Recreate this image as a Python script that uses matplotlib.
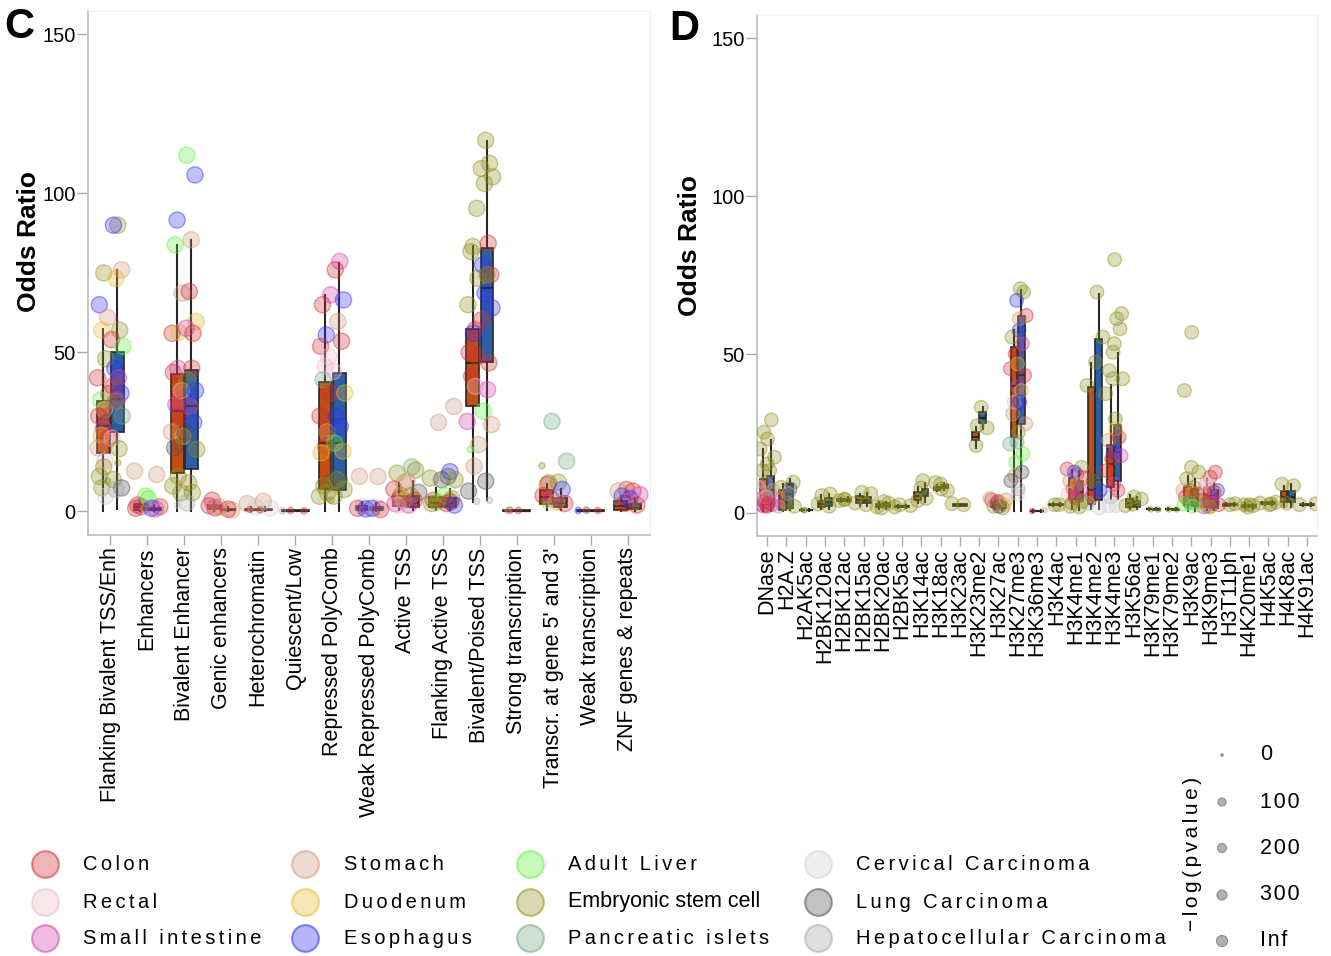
import numpy as np
import matplotlib
matplotlib.use("Agg")
import matplotlib.pyplot as plt
from matplotlib.colors import to_rgba

plt.rcParams["font.family"] = ["Liberation Sans", "DejaVu Sans"]

# ---------------------------------------------------------------- tissues
TISSUE_CODES = ["CO", "RE", "SI", "ST", "DU", "ES", "AL", "EM", "PI", "CC", "LC", "HC"]
TISSUE_NAMES = ["Colon", "Rectal", "Small intestine", "Stomach", "Duodenum", "Esophagus",
                "Adult Liver", "Embryonic stem cell", "Pancreatic islets",
                "Cervical Carcinoma", "Lung Carcinoma", "Hepatocellular Carcinoma"]
TISSUE_COLORS = ["#d03030", "#f0b8c8", "#d040b0", "#d09878", "#e8b830", "#3030f0",
                 "#60f040", "#909020", "#70a880", "#d0d0d0", "#505050", "#a8a8a8"]

SIZE_LABELS = ["0", "100", "200", "300", "Inf"]

# ---------------------------------------------------------------- panel C
C_CATS = ["Flanking Bivalent TSS/Enh", "Enhancers", "Bivalent Enhancer", "Genic enhancers",
          "Heterochromatin", "Quiescent/Low", "Repressed PolyComb", "Weak Repressed PolyComb",
          "Active TSS", "Flanking Active TSS", "Bivalent/Poised TSS", "Strong transcription",
          "Transcr. at gene 5' and 3'", "Weak transcription", "ZNF genes & repeats"]

# (whisker low, q1, median, q3, whisker high)
C_ORANGE = [(0.0, 18.4, 26.8, 34.7, 57.4), (0.2, 0.6, 1.3, 2.2, 3.5), (0.0, 12.1, 31.5, 43.1, 83.9),
            (0.2, 0.8, 1.3, 2.0, 3.0), (0.1, 0.3, 0.5, 0.8, 1.5), (0.05, 0.1, 0.2, 0.3, 0.5),
            (0.0, 7.2, 21.6, 40.7, 67.9), (0.1, 0.5, 0.9, 1.6, 3.0), (0.3, 1.6, 3.0, 5.0, 9.0),
            (0.3, 1.5, 2.8, 4.5, 7.5), (2.9, 33.3, 46.7, 57.2, 83.4), (0.05, 0.1, 0.2, 0.3, 0.5),
            (0.5, 2.4, 4.5, 6.6, 8.5), (0.05, 0.1, 0.2, 0.35, 0.6), (0.2, 0.6, 1.6, 3.2, 5.0)]
C_BLUE = [(0.9, 24.9, 35.2, 50.1, 75.9), (0.1, 0.3, 0.6, 1.0, 2.0), (0.0, 13.2, 33.1, 44.6, 85.3),
          (0.1, 0.3, 0.5, 0.8, 1.5), (0.1, 0.3, 0.6, 0.9, 1.5), (0.05, 0.1, 0.2, 0.3, 0.5),
          (0.0, 6.6, 21.6, 43.6, 78.2), (0.1, 0.4, 0.8, 1.4, 2.5), (0.3, 1.4, 2.8, 4.8, 9.5),
          (0.3, 1.4, 2.6, 4.2, 7.0), (3.7, 47.0, 70.3, 82.9, 116.4), (0.05, 0.1, 0.2, 0.3, 0.5),
          (0.3, 1.4, 2.7, 4.3, 6.9), (0.05, 0.1, 0.2, 0.3, 0.5), (0.2, 0.8, 1.2, 2.4, 4.0)]

# tissue:odds ratio, "s" suffix = small -log(p)
C_ORANGE_PTS = [
    "EM:75 ES:65 ST:61 DU:57 EM:48 CO:42 CO:37 AL:35 RE:32 CO:30 LC:28 SI:26 DU:24 CO:23 ST:20 RE:16 EM:14 EM:11 EM:9.5s EM:7.4 CC:4.8",
    "ST:12.7 AL:4.8 CO:2.0 SI:1.5 CO:1.0 DU:0.8s",
    "ES:91.6 AL:83.8 ST:68.6 CO:56 DU:56.3 SI:45 CO:43.7 RE:38 SI:33.6 CO:30 ST:25 DU:23.6 LC:20 EM:11 EM:8 EM:5.9 CC:2s",
    "CO:3.5 ST:1.5 CO:1.8 DU:1.0 SI:1.2",
    "ST:2.5 CC:1.5 CO:0.6s",
    "CO:0.3s ST:0.2s",
    "SI:68.1 CO:65 ES:55.5 CO:51.9 RE:48.7 RE:45.6 PI:41.4 CO:37.2 CO:30 ST:25 CO:20.5 DU:18.4 LC:9 EM:8 EM:5.9 EM:4.8 EM:3.5s",
    "ST:11 CC:1.5 CO:1.0 ES:0.8 SI:0.6s",
    "EM:12 ST:9 CO:7 EM:5 CO:4 SI:2.5 DU:3.5 RE:2",
    "ST:28 EM:10.5 LC:10 CO:3.5 AL:3 EM:2.5",
    "EM:95.3 EM:83.3 EM:81.7 EM:73.3 EM:65 CO:57.1 ES:56 CO:50 CO:48.7 CO:42.5 RE:39.3 SI:28.3 ST:21 AL:19.5s ST:14.2 LC:6.4 HC:3.2s",
    "CO:0.4s ST:0.3s",
    "PI:28.3 EM:14.4s EM:9 CO:8.5 CO:5 SI:4 AL:2s",
    "CO:0.4s ES:0.3s",
    "CO:6.9 ST:6.4 ES:4.8 EM:3s CO:2.5",
]
C_BLUE_PTS = [
    "EM:90 ES:90 ST:76 DU:73.3 EM:57 CO:54 AL:51.9 ES:45 SI:42 CO:39.3 ES:37.2 SI:35 EM:34.6 PI:30 RE:23 EM:19.7 EM:15.3s EM:10 LC:7.4 HC:6.9",
    "ST:11.6 AL:4.0 CO:1.5 ES:1.0 SI:0.8",
    "AL:112 ES:105.8 ST:85.4 CO:69.1 DU:59.7 SI:57.6 CO:56 CO:45 EM:41.4 ES:38 SI:33 ES:28 LC:24.7 EM:19.5 EM:9 EM:5.9 HC:2.7",
    "ST:0.5 CO:0.7",
    "ST:3.2 CC:1.0 CO:0.5s",
    "CO:0.2s",
    "SI:78.6 CO:76 ES:66.5 ST:59.7 CO:53.5 RE:44 DU:37.2 ES:30 ES:26.8 AL:21.5 DU:19 LC:10 EM:10 EM:6.9 EM:4.8",
    "ST:11 CC:1.2 ES:1.0 CO:0.6",
    "PI:14 EM:13 ST:9.5 LC:6 EM:5 CO:3.5 SI:2",
    "ST:33 ES:12.5 LC:11 EM:10 AL:5 EM:4 CO:3 CO:2.5 ES:2",
    "EM:116.7 EM:109.4 EM:107.8 EM:105.2 EM:103.1 CO:84.3 ES:77.5 CO:74.4 EM:74.4 ES:68.6 ES:64 CO:60.3 CO:46.7 SI:38.3 AL:31.5 ST:27.3 LC:9.5 HC:3.5s",
    "CO:0.3s",
    "PI:15.8 EM:9.2 ES:6.9 DU:3 CO:2.5",
    "CO:0.3s",
    "CO:6.4 SI:5.3 ES:4 CO:2 EM:1.5s",
]

# ---------------------------------------------------------------- panel D
D_CATS = ["DNase", "H2A.Z", "H2AK5ac", "H2BK120ac", "H2BK12ac", "H2BK15ac", "H2BK20ac",
          "H2BK5ac", "H3K14ac", "H3K18ac", "H3K23ac", "H3K23me2", "H3K27ac", "H3K27me3",
          "H3K36me3", "H3K4ac", "H3K4me1", "H3K4me2", "H3K4me3", "H3K56ac", "H3K79me1",
          "H3K79me2", "H3K9ac", "H3K9me3", "H3T11ph", "H4K20me1", "H4K5ac", "H4K8ac", "H4K91ac"]

D_ORANGE = [(0.6, 3.8, 7.0, 10.7, 20.0), (0.5, 0.9, 4.3, 7.0, 9.2), (0.5, 0.7, 0.8, 0.9, 1.0),
            (1.0, 1.7, 2.7, 3.8, 5.5), (3.3, 3.7, 4.0, 4.3, 4.7), (2.0, 2.9, 4.0, 5.1, 6.0),
            (1.2, 1.7, 2.3, 2.8, 3.3), (1.5, 1.8, 2.0, 2.2, 2.5), (3.0, 4.0, 5.2, 6.4, 8.0),
            (6.8, 7.2, 7.6, 8.0, 8.8), (2.0, 2.2, 2.4, 2.6, 2.8), (20.5, 22.8, 24.0, 25.4, 27.0),
            (1.0, 1.8, 2.6, 3.5, 4.5), (0.6, 23.8, 40.0, 52.3, 57.6), (0.3, 0.4, 0.5, 0.6, 0.7),
            (2.2, 2.4, 2.5, 2.7, 2.9), (1.0, 4.3, 7.5, 10.9, 13.5), (1.2, 2.7, 7.0, 39.7, 47.4),
            (4.3, 8.2, 15.4, 21.4, 40.2), (1.2, 1.7, 3.0, 4.3, 5.5), (0.8, 1.0, 1.1, 1.3, 1.5),
            (0.8, 1.0, 1.1, 1.3, 1.5), (0.5, 2.5, 5.0, 8.0, 11.7), (0.8, 1.7, 4.0, 8.0, 10.5),
            (2.0, 2.2, 2.5, 2.7, 3.0), (1.3, 1.8, 2.2, 2.5, 2.9), (2.4, 2.7, 3.0, 3.2, 3.5),
            (1.8, 3.3, 5.0, 6.7, 8.5), (2.2, 2.4, 2.5, 2.7, 2.9)]
D_BLUE = [(0.6, 2.8, 7.0, 11.7, 23.1), (0.8, 1.5, 6.0, 9.1, 10.5), (0.5, 0.7, 0.8, 0.9, 1.0),
          (1.2, 2.2, 3.5, 4.6, 6.0), (3.4, 3.8, 4.1, 4.4, 4.8), (2.2, 3.0, 4.0, 5.0, 6.2),
          (1.3, 1.8, 2.4, 2.9, 3.4), (1.5, 1.8, 2.0, 2.2, 2.5), (3.5, 5.1, 6.3, 7.5, 9.5),
          (7.2, 7.8, 8.2, 8.6, 9.3), (2.0, 2.2, 2.4, 2.6, 2.8), (26.5, 28.3, 30.0, 31.7, 33.5),
          (0.8, 1.6, 2.4, 3.3, 4.2), (0.6, 28.1, 43.4, 62.3, 70.5), (0.3, 0.4, 0.5, 0.6, 0.7),
          (2.2, 2.4, 2.5, 2.7, 2.9), (0.8, 3.8, 6.5, 10.0, 13.0), (1.2, 4.0, 10.3, 55.0, 69.2),
          (4.3, 10.1, 19.1, 27.8, 50.4), (1.2, 1.8, 2.8, 3.8, 5.0), (0.7, 0.9, 1.0, 1.2, 1.4),
          (0.7, 0.9, 1.0, 1.2, 1.4), (0.5, 2.2, 4.5, 7.5, 10.5), (0.8, 1.5, 3.5, 7.0, 9.5),
          (2.2, 2.4, 2.6, 2.8, 3.1), (1.3, 1.7, 2.0, 2.4, 2.8), (2.5, 2.8, 3.1, 3.3, 3.6),
          (1.8, 3.3, 5.0, 6.7, 9.0), (2.2, 2.4, 2.5, 2.7, 2.9)]

D_ORANGE_PTS = [
    "EM:25.4 EM:20.1 EM:15.4 EM:13.3 ST:9 RE:8 EM:5 SI:4.3 CO:3.5 SI:2.7 CO:2.5 SI:2",
    "EM:8 EM:3 HC:2",
    "EM:0.8s",
    "EM:5.4 EM:2.7",
    "EM:4.2 EM:3.8",
    "EM:6.4 EM:3.0",
    "EM:3.5 EM:1.8",
    "EM:2.5 EM:1.8",
    "EM:7.8 EM:3.8",
    "EM:9.5 EM:7.5",
    "EM:2.8",
    "EM:27.5 EM:21.2",
    "CO:4 DU:3.5 EM:2 SI:3 ST:4.5",
    "ES:57.6 EM:55.5 CO:50.2 CO:45.5 SI:39.7 RE:34.9 ST:31.2 EM:25.4 PI:21.7 AL:15.9 ST:11.7 LC:10.1 CC:5.9",
    "CO:0.5s",
    "EM:2.5",
    "CO:13.8 SI:12 ST:10 CO:7.5 RE:6 SI:4.5 EM:3 EM:2",
    "EM:47.6 EM:40.2 EM:10 CO:5 HC:3",
    "EM:53.4 EM:44.9 EM:42.3 EM:37.6 EM:29.6 ST:22.8 CO:17 CO:13.3 SI:9 HC:4.9 CC:2.2",
    "EM:4.9 EM:2.2",
    "EM:1.0s",
    "EM:1.0s",
    "EM:38.6 EM:14.3 EM:10.7 CO:7 ST:7 DU:6 CO:5 EM:3.5 AL:2.7",
    "CO:11.2 RE:10.1 RE:8.5 SI:5 CO:4 CO:3.5 EM:2 SI:1.8",
    "EM:2.5",
    "EM:2.5 EM:1.8",
    "EM:3.0 EM:2.5",
    "EM:9 EM:2.5s",
    "EM:2.5",
]
D_BLUE_PTS = [
    "EM:29.3 EM:23.3 EM:17.5 EM:13.3 ST:7 RE:5 SI:4 CO:3 SI:2.5 CO:2",
    "EM:9.6 LC:7.5 HC:6 EM:2",
    "EM:0.8s",
    "EM:5.9 EM:2",
    "EM:4.2",
    "EM:6.0 EM:2.5",
    "EM:3.0 EM:1.5",
    "EM:2.2",
    "EM:10.1 EM:4.5",
    "EM:9.0 EM:7.0",
    "EM:2.5",
    "EM:33.3 EM:26.8",
    "CO:3.5 DU:2.5 EM:1.5 LC:2 ST:4",
    "EM:70.8 EM:69.7 ES:67.1 CO:62.3 ST:61.3 SI:53.4 DU:47 CO:43.4 DU:38.6 ES:35 ST:28.1 PI:22.3 AL:18.6 LC:12.8 HC:7.5",
    "ST:0.8s",
    "EM:2.5",
    "EM:14.3 ES:12.8 CO:11 DU:9 SI:7 CO:5 EM:3.5 EM:1.8",
    "EM:69.7 EM:55.5 LC:10 ES:7 CC:1.5",
    "EM:80 EM:62.9 EM:61.3 EM:58.1 EM:50.7 EM:42.3 DU:26.5 CO:23.8 ES:19.1 SI:18 CO:7 CC:2.2",
    "EM:4.3 EM:2.7",
    "EM:1.0s",
    "EM:1.0s",
    "EM:57 EM:12.8 EM:8 CO:6 PI:3 EM:3.5 AL:2",
    "CO:12.8 RE:8 ES:7 CO:6.5 SI:3 CO:2.5 EM:1.8",
    "EM:2.8",
    "EM:2.2 EM:2.5",
    "EM:3.3 EM:2.8",
    "EM:8.5 EM:3",
    "EM:2.8",
]

ORANGE = "#c24e14"
BLUE = "#2c5ea6"
OFFSET = 0.19
JITTER = [0.1, -0.6, 0.7, -0.2, 0.4, -0.9, 0.9, -0.4, 0.2, -0.7, 0.6, 0.0, -0.3, 0.8, -0.8, 0.3]


def parse_points(s):
    out = []
    for tok in s.split():
        code, v = tok.split(":")
        out.append((code, float(v.rstrip("s")), v.endswith("s")))
    return out


def spaced(s):
    # letter-spaced text like the original legend
    return "\u2006".join(s)


def draw_panel(ax, cats, ostats, bstats, opts, bpts, jit, big, small, pad_x):
    x = np.arange(len(cats))
    for stats, off, color, pts in ((ostats, -OFFSET, ORANGE, opts), (bstats, OFFSET, BLUE, bpts)):
        bx = [dict(whislo=s[0], q1=s[1], med=s[2], q3=s[3], whishi=s[4], fliers=[]) for s in stats]
        ax.bxp(bx, positions=x + off, widths=0.35, patch_artist=True, showcaps=False,
               showfliers=False, manage_ticks=False, zorder=2,
               boxprops=dict(facecolor=color, edgecolor="#262626", linewidth=1.2),
               whiskerprops=dict(color="#262626", linewidth=1.5),
               medianprops=dict(color="#262626", linewidth=1.6))
        xs, ys, fc, ec, ss = [], [], [], [], []
        k = 0
        for i, s in enumerate(pts):
            for code, v, sm in parse_points(s):
                col = TISSUE_COLORS[TISSUE_CODES.index(code)]
                xs.append(i + off + JITTER[k % len(JITTER)] * jit)
                ys.append(v)
                fc.append(to_rgba(col, 0.3))
                ec.append(to_rgba(col, 0.45))
                ss.append(small if sm else big)
                k += 1
        ax.scatter(xs, ys, s=ss, c=fc, edgecolors=ec, linewidths=1.0, zorder=3)

    ax.set_xlim(-pad_x, len(cats) - 1 + pad_x)
    ax.set_ylim(-7.4, 157.3)
    ax.set_yticks([0, 50, 100, 150])
    ax.set_xticks(x)
    ax.set_xticklabels(cats, rotation=90, fontsize=15.5)
    ax.tick_params(axis="x", length=7, width=1, color="#aaaaaa", pad=2)
    ax.tick_params(axis="y", length=8, width=1, color="#aaaaaa", pad=1, labelsize=14.5)
    for side in ("left", "bottom"):
        ax.spines[side].set_color("#bbbbbb")
        ax.spines[side].set_linewidth(1.2)
    for side in ("top", "right"):
        ax.spines[side].set_color("#f0f0f0")
    ax.set_ylabel("Odds Ratio", fontsize=19, fontweight="bold")


fig = plt.figure(figsize=(13.31, 9.56), dpi=100)
axC = fig.add_axes([0.0661, 0.4404, 0.4223, 0.548])
axD = fig.add_axes([0.5688, 0.4393, 0.4207, 0.545])

draw_panel(axC, C_CATS, C_ORANGE, C_BLUE, C_ORANGE_PTS, C_BLUE_PTS, 0.17, 135, 20, 0.6)
draw_panel(axD, D_CATS, D_ORANGE, D_BLUE, D_ORANGE_PTS, D_BLUE_PTS, 0.28, 95, 14, 0.52)
axC.yaxis.set_label_coords(-0.084, 0.56)
axD.yaxis.set_label_coords(-0.099, 0.557)

fig.text(19 / 1331, 1 - 27 / 956, "C", fontsize=30, fontweight="bold", ha="center", va="center")
fig.text(684 / 1331, 1 - 29 / 956, "D", fontsize=30, fontweight="bold", ha="center", va="center")

# ---------------------------------------------------------------- legends (pixel coords)
lg = fig.add_axes([0, 0, 1, 1])
lg.set_xlim(0, 1331)
lg.set_ylim(956, 0)
lg.axis("off")

circle_x = [45, 305, 530, 818]
text_x = [83, 344, 568, 856]
row_y = [864, 902, 938]
for j, (name, col) in enumerate(zip(TISSUE_NAMES, TISSUE_COLORS)):
    cx, r = j // 3, j % 3
    lg.scatter([circle_x[cx]], [row_y[r]], s=370, color=to_rgba(col, 0.35),
               edgecolors=[to_rgba(col, 0.55)], linewidths=1.5)
    if name == "Embryonic stem cell":
        lg.text(text_x[cx], row_y[r], name, fontsize=15.5, ha="left", va="center")
    else:
        lg.text(text_x[cx], row_y[r], spaced(name), fontsize=14.5, ha="left", va="center")

size_y = [755, 802, 848, 895, 941]
size_d = [2.5, 8, 9, 10, 11]
lg.scatter([1222] * len(size_y), size_y, s=[(d * 0.72) ** 2 for d in size_d],
           color="#b0b0b0", edgecolors="#909090", linewidths=0.8)
for yy, lab in zip(size_y, SIZE_LABELS):
    lg.text(1260, yy, "\u200a".join(lab), fontsize=15.5, ha="left", va="center")
lg.text(1193, 854, spaced("\u2212log(pvalue)"), fontsize=15, rotation=90, ha="center", va="center")

fig.savefig("out.png", dpi=100)
